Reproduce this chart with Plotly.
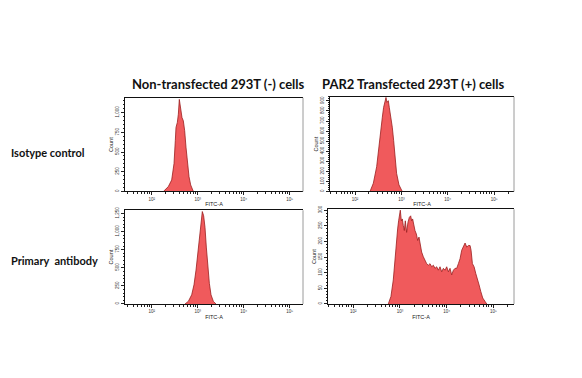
import plotly.graph_objects as go

# ---------------- data ----------------
col_titles = ["Non-transfected 293T (-) cells", "PAR2 Transfected 293T (+) cells"]
row_labels = ["Isotype control", "Primary  antibody"]
x_title = "FITC-A"
y_title = "Count"
x_tick_exps = [2, 3, 4, 5]
x_tick_labels = ["10²", "10³", "10⁴", "10⁵"]

# log10(FITC-A) positions and event counts
iso_neg_log = [2.254, 2.362, 2.435, 2.486, 2.514, 2.529, 2.558, 2.580, 2.601, 2.616,
               2.638, 2.659, 2.688, 2.717, 2.746, 2.775, 2.812, 2.848, 2.906]
iso_neg_count = [0, 62, 146, 354, 646, 812, 875, 979, 1167, 1104,
                 1000, 937, 896, 771, 562, 354, 187, 83, 0]

iso_pos_log = [2.323, 2.395, 2.467, 2.517, 2.560, 2.589, 2.617, 2.646, 2.668, 2.689,
               2.718, 2.739, 2.775, 2.804, 2.833, 2.861, 2.897, 2.948, 3.019]
iso_pos_count = [0, 82, 246, 475, 672, 738, 836, 902, 934, 885,
                 902, 836, 738, 639, 508, 344, 180, 66, 0]

ab_neg_log = [2.725, 2.797, 2.870, 2.920, 2.964, 3.000, 3.036, 3.072, 3.101, 3.130,
              3.159, 3.188, 3.217, 3.254, 3.290, 3.341, 3.399]
ab_neg_count = [0, 36, 127, 264, 468, 695, 968, 1195, 1277, 1218,
                1059, 786, 514, 286, 127, 36, 0]

ab_pos_log = [2.750, 2.807, 2.857, 2.893, 2.929, 2.950, 2.971, 2.993, 3.007, 3.029,
              3.050, 3.071, 3.093, 3.114, 3.143, 3.171, 3.200, 3.229, 3.250, 3.271,
              3.293, 3.321, 3.350, 3.379, 3.407, 3.436, 3.464, 3.500, 3.536, 3.571,
              3.607, 3.643, 3.679, 3.714, 3.750, 3.786, 3.821, 3.857, 3.893, 3.929,
              3.964, 4.000, 4.036, 4.071, 4.107, 4.143, 4.179, 4.214, 4.250, 4.286,
              4.321, 4.357, 4.393, 4.429, 4.464, 4.500, 4.521, 4.550, 4.586, 4.621,
              4.657, 4.693, 4.729, 4.771, 4.821, 4.857]
ab_pos_count = [0, 24, 77, 151, 224, 240, 266, 287, 300, 266,
                272, 251, 235, 266, 229, 261, 277, 282, 266, 272,
                251, 235, 224, 203, 214, 182, 166, 151, 140, 129,
                124, 129, 119, 124, 114, 119, 108, 119, 103, 114,
                108, 119, 103, 114, 93, 108, 114, 114, 129, 145,
                172, 187, 195, 182, 187, 187, 172, 129, 119, 98,
                82, 61, 40, 19, 8, 0]

y_ticks_iso_neg = [0, 250, 500, 750, 1000]
y_ticks_iso_pos = [0, 100, 200, 300, 400, 500, 600, 700, 800, 900]
y_ticks_ab_neg = [0, 250, 500, 750, 1000, 1250]
y_ticks_ab_pos = [0, 50, 100, 150, 200, 250, 300]

# ---------------- figure ----------------
W, H = 582, 378
def px_x(a, b):
    return [a / W, b / W]
def px_y(top, bottom):
    return [1 - bottom / H, 1 - top / H]

panels = [
    dict(log=iso_neg_log, cnt=iso_neg_count, yt=y_ticks_iso_neg, xd=px_x(125, 303), yd=px_y(95, 190),
         xr=[1.42, 5.29], yr=[0, 1188]),
    dict(log=iso_pos_log, cnt=iso_pos_count, yt=y_ticks_iso_pos, xd=px_x(330, 514), yd=px_y(94, 190),
         xr=[1.46, 5.43], yr=[0, 941]),
    dict(log=ab_neg_log, cnt=ab_neg_count, yt=y_ticks_ab_neg, xd=px_x(125, 303), yd=px_y(209, 304),
         xr=[1.42, 5.29], yr=[0, 1295]),
    dict(log=ab_pos_log, cnt=ab_pos_count, yt=y_ticks_ab_pos, xd=px_x(328, 514), yd=px_y(208, 304),
         xr=[1.46, 5.44], yr=[0, 303]),
]

minor_x = [m * 10 ** e for e in range(1, 6) for m in range(2, 10)]
tick_font = dict(family="Liberation Sans, Arial, sans-serif", size=4.5, color="#333333")

fig = go.Figure()
layout = dict(width=W, height=H, margin=dict(l=0, r=0, t=0, b=0),
              paper_bgcolor="white", plot_bgcolor="white", showlegend=False)
shapes = []
annotations = []

for i, p in enumerate(panels):
    k = "" if i == 0 else str(i + 1)
    fig.add_trace(go.Scatter(
        x=[10 ** v for v in p["log"]], y=p["cnt"], mode="lines",
        fill="tozeroy", fillcolor="#F05A5C",
        line=dict(color="#9A1E1E", width=0.8),
        xaxis="x" + k, yaxis="y" + k, hoverinfo="skip"))
    step = p["yt"][1] - p["yt"][0]
    layout["xaxis" + k] = dict(
        domain=p["xd"], anchor="y" + k, type="log", range=p["xr"],
        tickvals=[10 ** e for e in x_tick_exps], ticktext=x_tick_labels,
        ticks="outside", ticklen=3, tickwidth=0.8, tickcolor="#222",
        minor=dict(tickvals=minor_x, ticks="outside", ticklen=2, tickcolor="#222", tickwidth=0.6),
        showgrid=False, zeroline=False, showline=True, linecolor="#111", linewidth=1,
        mirror=True, tickfont=tick_font,
        title=dict(text=x_title, font=dict(family="Liberation Sans, Arial", size=5.5, color="#222"),
                   standoff=1))
    layout["yaxis" + k] = dict(
        domain=p["yd"], anchor="x" + k, range=p["yr"],
        tickvals=p["yt"], tickformat=",d", tickangle=-90,
        ticks="outside", ticklen=3, tickwidth=0.8, tickcolor="#222",
        minor=dict(dtick=step / 5, ticks="outside", ticklen=1.5, tickcolor="#222", tickwidth=0.6,
                   showgrid=False),
        showgrid=False, zeroline=False, showline=True, linecolor="#111", linewidth=1,
        tickfont=tick_font,
        title=dict(text=y_title, font=dict(family="Liberation Sans, Arial", size=5.5, color="#222"),
                   standoff=1))
    # grey right border
    shapes.append(dict(type="line", xref="paper", yref="paper",
                       x0=p["xd"][1], x1=p["xd"][1], y0=p["yd"][0], y1=p["yd"][1],
                       line=dict(color="#9a9a9a", width=1)))

title_font = dict(family="Lato, Liberation Sans, sans-serif", size=13, color="#111")
for j, t in enumerate(col_titles):
    cx = [218, 413][j]
    annotations.append(dict(text="<b>" + t + "</b>", x=cx / W, y=1 - 81 / H, xref="paper", yref="paper",
                            showarrow=False, font=title_font, xanchor="center", yanchor="middle"))
row_font = dict(family="Lato, Liberation Sans, sans-serif", size=11, color="#111")
for j, t in enumerate(row_labels):
    cy = [150, 260][j]
    annotations.append(dict(text="<b>" + t + "</b>", x=9 / W, y=1 - cy / H, xref="paper", yref="paper",
                            showarrow=False, font=row_font, xanchor="left", yanchor="middle"))

layout["shapes"] = shapes
layout["annotations"] = annotations
fig.update_layout(**layout)
fig.write_html("out.html", config={"displayModeBar": False},
               post_script="document.body.style.margin='0';")
